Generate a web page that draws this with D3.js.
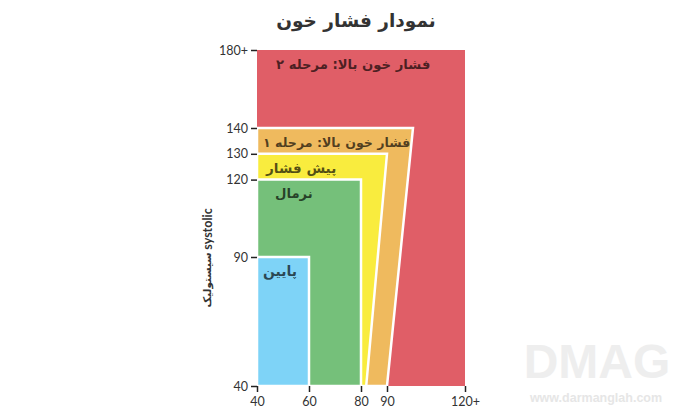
<!DOCTYPE html>
<html><head><meta charset="utf-8">
<script src="https://cdn.jsdelivr.net/npm/d3@7"></script>
<style>
html,body{margin:0;padding:0;background:#fff;}
svg{display:block;}
</style></head>
<body>
<svg id="chart" width="700" height="420"></svg>
<script>
// ---- data ----
const categories = ["فشار خون  بالا: مرحله ۲", "فشار خون بالا: مرحله ۱", "پیش فشار", "نرمال", "پایین"];
const systolicTop = [180, 140, 130, 120, 90];
const systolicBottom = [40, 40, 40, 40, 40];
const diastolicLeft = [40, 40, 40, 40, 40];
const diastolicRightTop = [120, 100, 90, 80, 60];
const diastolicRightBottom = [120, 90, 82, 80, 60];
const colors = ["#e05e67", "#efba5e", "#f9ec3e", "#75c07a", "#7ed3f7"];
const yTicks = [40, 90, 120, 130, 140, 180];
const yTickLabels = ["40", "90", "120", "130", "140", "180+"];
const xTicks = [40, 60, 80, 90, 120];
const xTickLabels = ["40", "60", "80", "90", "120+"];

// ---- layout ----
const svg = d3.select("#chart");
const x = d3.scaleLinear().domain([40, 120]).range([257, 465]);
const y = d3.scaleLinear().domain([40, 140, 180]).range([386, 128, 50]);

// title
svg.append("text")
  .attr("x", 356).attr("y", 27)
  .attr("text-anchor", "middle")
  .attr("font-family", "DejaVu Sans")
  .attr("font-weight", "bold")
  .attr("font-size", 18.5)
  .attr("fill", "#333")
  .text("نمودار فشار خون");

// watermark
svg.append("text")
  .attr("x", 597).attr("y", 378)
  .attr("text-anchor", "middle")
  .attr("font-family", "Liberation Sans")
  .attr("font-weight", "bold")
  .attr("font-size", 48)
  .attr("fill", "#eeeeee")
  .text("DMAG");
svg.append("text")
  .attr("x", 596).attr("y", 402)
  .attr("text-anchor", "middle")
  .attr("font-family", "Liberation Sans")
  .attr("font-weight", "bold")
  .attr("font-size", 12.5)
  .attr("fill", "#e6e6e6")
  .text("www.darmanglah.com");

// regions
const line = d3.line().x(d => x(d[0])).y(d => y(d[1]));
const regions = categories.map((c, i) => ({
  name: c, color: colors[i],
  pts: [[diastolicLeft[i], systolicBottom[i]], [diastolicLeft[i], systolicTop[i]],
        [diastolicRightTop[i], systolicTop[i]], [diastolicRightBottom[i], systolicBottom[i]]]
}));
svg.append("g").selectAll("path").data(regions).join("path")
  .attr("d", d => line(d.pts) + "Z")
  .attr("fill", d => d.color)
  .attr("stroke", (d, i) => i === 0 ? "none" : "#fff")
  .attr("stroke-width", 2.5)
  .attr("stroke-linejoin", "miter");

// region labels
const labelPad = [19, 6, 9, 18, 6];
const labelSize = [13.2, 12.6, 13.6, 13.2, 14];
svg.append("g").selectAll("text").data(regions).join("text")
  .attr("x", (d, i) => x(diastolicLeft[i]) + labelPad[i])
  .attr("y", (d, i) => y(systolicTop[i]) + 14)
  .attr("dominant-baseline", "central")
  .attr("direction", "rtl")
  .attr("text-anchor", "end")
  .attr("font-family", "DejaVu Sans")
  .attr("font-weight", "bold")
  .attr("font-size", (d, i) => labelSize[i])
  .attr("fill", "#000")
  .attr("fill-opacity", 0.68)
  .text(d => d.name);

// axes
const yAxis = d3.axisLeft(y).tickValues(yTicks).tickFormat((d, i) => yTickLabels[i]).tickSize(6).tickPadding(3);
const gy = svg.append("g").attr("transform", `translate(${x(40)},0)`).call(yAxis);
const xAxis = d3.axisBottom(x).tickValues(xTicks).tickFormat((d, i) => xTickLabels[i]).tickSize(6).tickPadding(5);
const gx = svg.append("g").attr("transform", `translate(0,${y(40)})`).call(xAxis);
[gy, gx].forEach(g => {
  g.select(".domain").remove();
  g.selectAll(".tick line").attr("stroke", "#222").attr("stroke-width", 1.5);
  g.selectAll(".tick text").attr("font-family", "Lato").attr("font-size", 12.5).attr("fill", "#333");
});

// y axis title
svg.append("text")
  .attr("transform", "translate(207,229) rotate(-90)")
  .attr("text-anchor", "middle").attr("dominant-baseline", "central")
  .attr("font-family", "Lato").attr("font-weight", "bold").attr("font-size", 12.5)
  .attr("fill", "#333")
  .text("systolic");
svg.append("text")
  .attr("transform", "translate(207,280) rotate(-90)")
  .attr("text-anchor", "middle").attr("dominant-baseline", "central")
  .attr("font-family", "DejaVu Sans").attr("font-weight", "bold").attr("font-size", 10.5)
  .attr("fill", "#333")
  .text("سیستولیک");
</script>
</body></html>
